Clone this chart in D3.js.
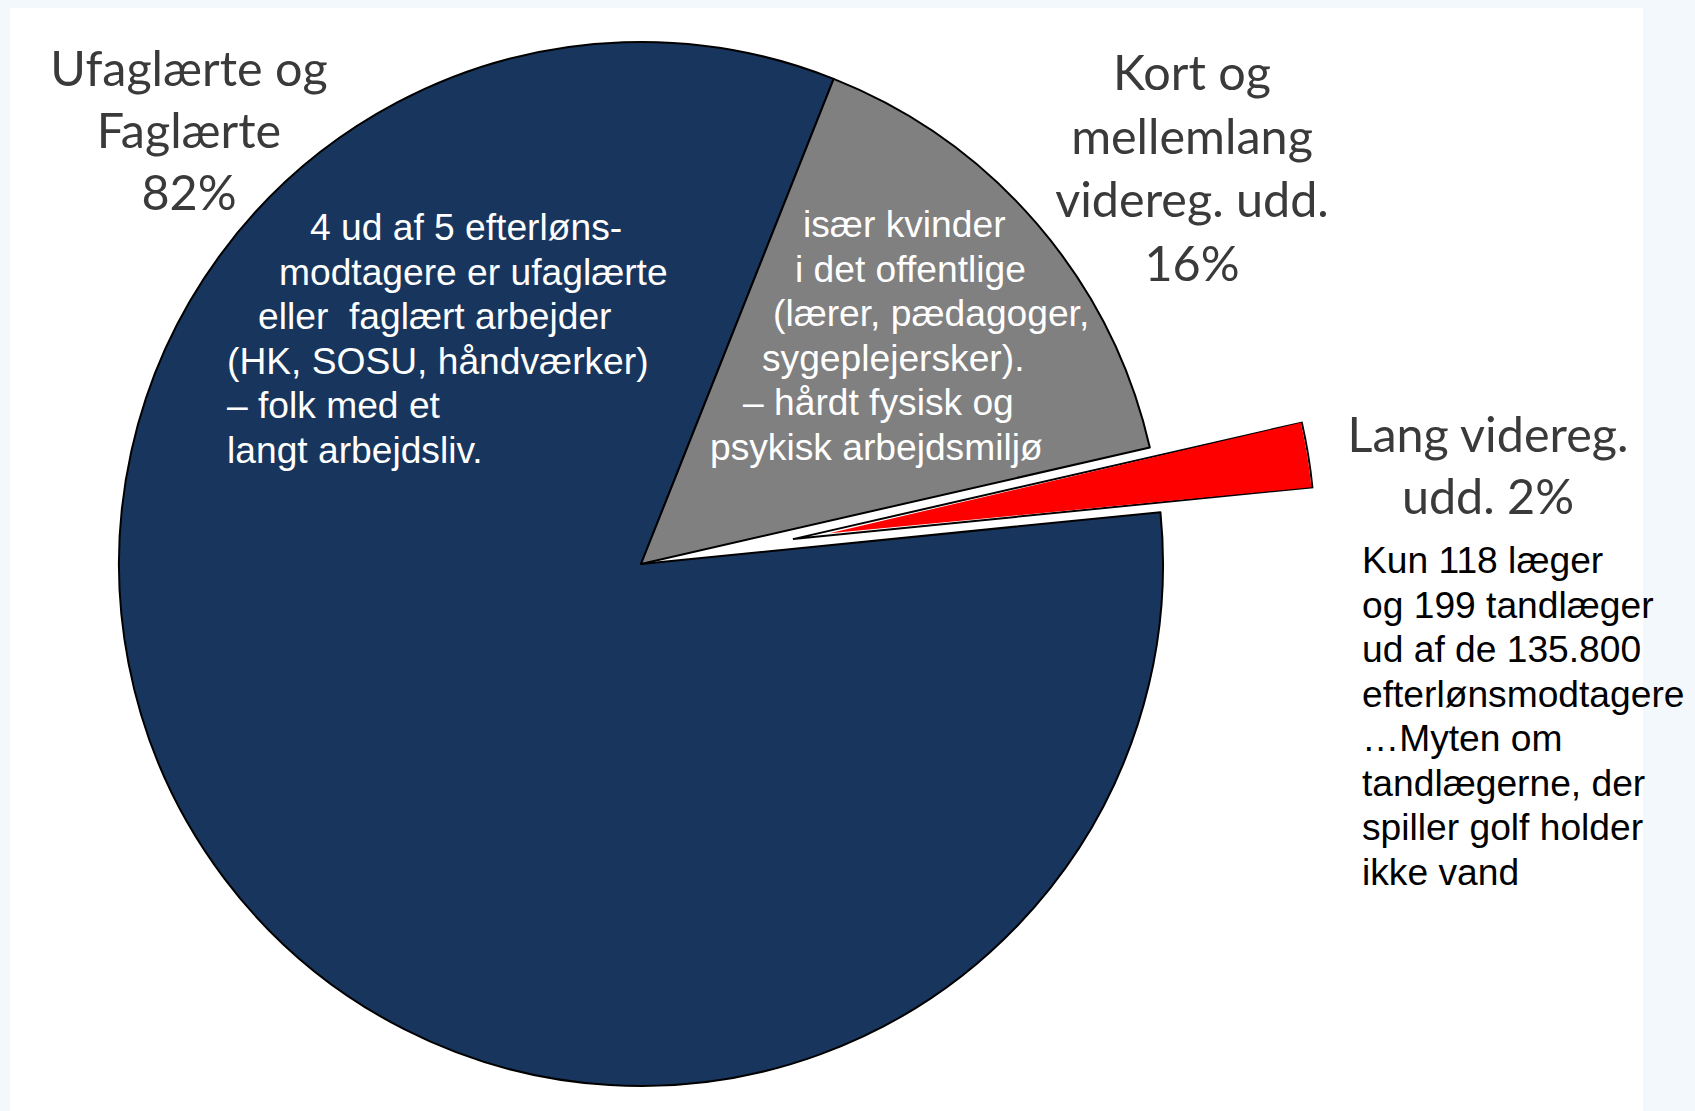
<!DOCTYPE html>
<html>
<head>
<meta charset="utf-8">
<script src="https://cdn.jsdelivr.net/npm/d3@7"></script>
<style>
  html, body { margin: 0; padding: 0; background: #f3f8fd; }
  svg { display: block; }
</style>
</head>
<body>
<svg id="chart" width="1695" height="1111"></svg>
<script>
// ---- data ----
const categories = ["Ufaglærte og Faglærte", "Kort og mellemlang videreg. udd.", "Lang videreg. udd."];
const values = [82.6, 15.4, 2.0];
const colors = ["#18365d", "#808080", "#ff0000"];
const exploded = [false, false, true];
const labelLines = [
  ["Ufaglærte og", "Faglærte", "82%"],
  ["Kort og", "mellemlang", "videreg. udd.", "16%"],
  ["Lang videreg.", "udd. 2%"]
];
const noteDark = [
  "4 ud af 5 efterløns-",
  "modtagere er ufaglærte",
  "eller  faglært arbejder",
  "(HK, SOSU, håndværker)",
  "– folk med et",
  "langt arbejdsliv."
];
const noteGray = [
  "især kvinder",
  "i det offentlige",
  "(lærer, pædagoger,",
  "sygeplejersker).",
  "– hårdt fysisk og",
  "psykisk arbejdsmiljø"
];
const noteRed = [
  "Kun 118 læger",
  "og 199 tandlæger",
  "ud af de 135.800",
  "efterlønsmodtagere",
  "…Myten om",
  "tandlægerne, der",
  "spiller golf holder",
  "ikke vand"
];

// ---- layout ----
const svg = d3.select("#chart");
svg.append("rect").attr("x", 10).attr("y", 8).attr("width", 1633).attr("height", 1111).attr("fill", "#ffffff");

const cx = 641, cy = 564, R = 522, explodeDist = 154, innerInset = 37;
const deg = Math.PI / 180;
const start = 84.3 * deg;

const pie = d3.pie().sort(null).value(d => d.value).startAngle(start).endAngle(start + 2 * Math.PI);
const data = categories.map((c, i) => ({ name: c, value: values[i], color: colors[i], exploded: exploded[i] }));
const arcs = pie(data);
const arc = d3.arc().innerRadius(0).outerRadius(R);

const g = svg.append("g").attr("transform", `translate(${cx},${cy})`);

arcs.forEach(a => {
  if (!a.data.exploded) {
    g.append("path").attr("d", arc(a)).attr("fill", a.data.color)
      .attr("stroke", "#000").attr("stroke-width", 2).attr("stroke-linejoin", "round");
  }
});
arcs.forEach(a => {
  if (a.data.exploded) {
    const mid = (a.startAngle + a.endAngle) / 2;
    const ex = Math.sin(mid) * explodeDist, ey = -Math.cos(mid) * explodeDist;
    const sg = g.append("g").attr("transform", `translate(${ex},${ey})`);
    sg.append("path").attr("d", arc(a)).attr("fill", "#ffffff")
      .attr("stroke", "#000").attr("stroke-width", 2).attr("stroke-linejoin", "miter");
    const p = d3.path();
    p.moveTo(Math.sin(mid) * innerInset, -Math.cos(mid) * innerInset);
    p.lineTo(Math.sin(a.startAngle) * (R - 1), -Math.cos(a.startAngle) * (R - 1));
    p.arc(0, 0, R - 1, a.startAngle - Math.PI / 2, a.endAngle - Math.PI / 2);
    p.closePath();
    sg.append("path").attr("d", p.toString()).attr("fill", a.data.color);
  }
});

// category labels
const catFont = "Lato, 'Open Sans', sans-serif";
const catColor = "#3a3a3a";
const catPos = [
  { x: 189, y: 86, dy: 62 },
  { x: 1192, y: 90, dy: 63.5 },
  { x: 1488, y: 452, dy: 62 }
];
labelLines.forEach((lines, i) => {
  lines.forEach((t, j) => {
    svg.append("text").attr("x", catPos[i].x).attr("y", catPos[i].y + j * catPos[i].dy)
      .attr("text-anchor", "middle").attr("font-family", catFont).attr("font-size", 48.5)
      .attr("fill", catColor).text(t);
  });
});

// notes
const noteFont = "'Liberation Sans', Arial, sans-serif";
const noteSize = 37.2;
const darkX = [310, 279, 258, 227, 227, 227];
noteDark.forEach((t, j) => {
  svg.append("text").attr("x", darkX[j]).attr("y", 240 + j * 44.5)
    .attr("font-family", noteFont).attr("font-size", noteSize).attr("fill", "#ffffff")
    .style("white-space", "pre").text(t);
});
const grayX = [803, 795, 773, 762, 743, 710];
noteGray.forEach((t, j) => {
  svg.append("text").attr("x", grayX[j]).attr("y", 237 + j * 44.5)
    .attr("font-family", noteFont).attr("font-size", noteSize).attr("fill", "#ffffff").text(t);
});
noteRed.forEach((t, j) => {
  svg.append("text").attr("x", 1362).attr("y", 573 + j * 44.5)
    .attr("font-family", noteFont).attr("font-size", noteSize).attr("fill", "#000000").text(t);
});
</script>
</body>
</html>
